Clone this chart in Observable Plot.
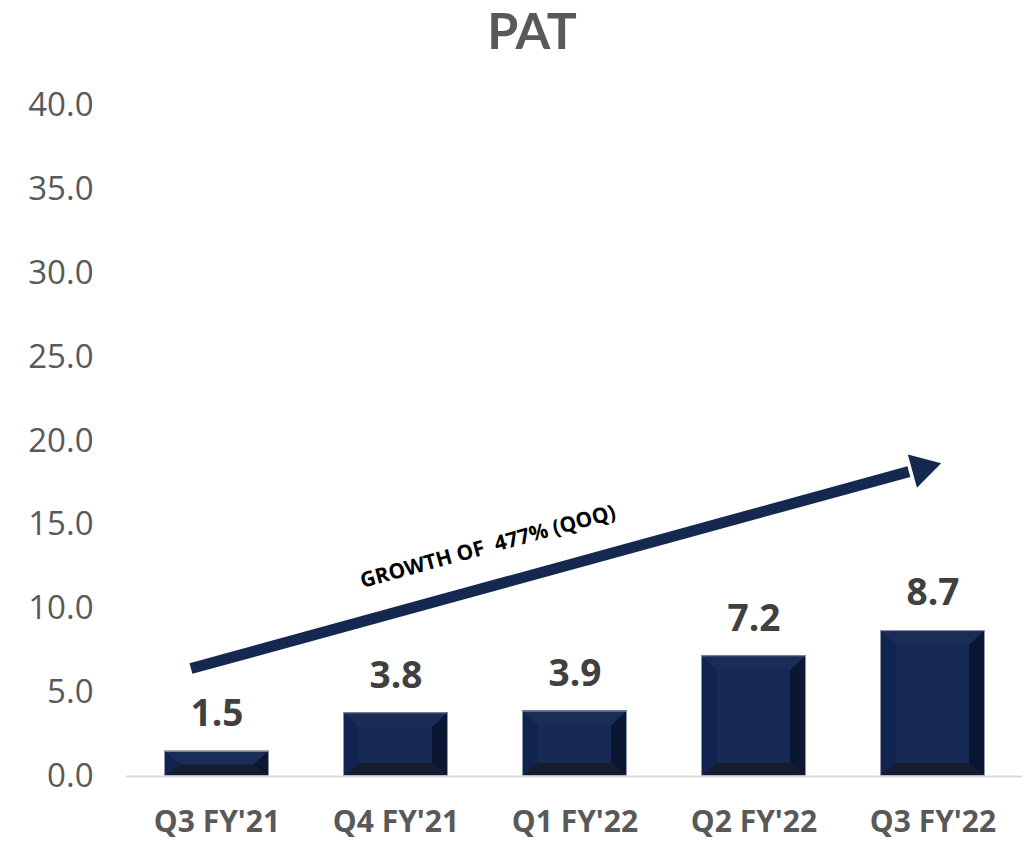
<!DOCTYPE html>
<html>
<head>
<meta charset="utf-8">
<script src="https://cdn.jsdelivr.net/npm/d3@7"></script>
<script src="https://cdn.jsdelivr.net/npm/@observablehq/plot@0.6"></script>
<style>
  html, body { margin: 0; padding: 0; background: #ffffff; }
  #title { width: 1028px; height: 60px; line-height: 60px; text-align: center; padding-left: 36px; box-sizing: border-box;
           font-family: Lato, "Open Sans", sans-serif; font-weight: bold; font-size: 50px; color: #595959; overflow: visible; }
</style>
</head>
<body>
<div id="title">PAT</div>
<div id="chart"></div>
<script>
// ---- data ----
const quarters = ["Q3 FY'21", "Q4 FY'21", "Q1 FY'22", "Q2 FY'22", "Q3 FY'22"];
const pat = [1.5, 3.8, 3.9, 7.2, 8.7];
const yTicks = [0, 5, 10, 15, 20, 25, 30, 35, 40];
const growthLabel = ["GROWTH OF  477% (QOQ)"];
// arrow (category, value at its centre line)
const arrowFrom = ["Q3 FY'21", 6.86];
const arrowTo = ["Q3 FY'22", 18.57];
const headAt = ["Q3 FY'22", 18.36];
const labelAt = ["Q4 FY'21", 13.7];

const data = quarters.map((q, i) => ({quarter: q, value: pat[i]}));
const navy = "#15284f";

const chart = Plot.plot({
  width: 1028,
  height: 782,
  marginLeft: 126,
  marginRight: 6,
  marginTop: 45,
  marginBottom: 66,
  style: {fontFamily: "'Open Sans', sans-serif", background: "transparent", color: "#595959"},
  x: {domain: quarters, paddingInner: 0.414, paddingOuter: 0.207, label: null},
  y: {domain: [0, 40], label: null},
  marks: [
    Plot.axisY({ticks: yTicks, tickFormat: d3.format(".1f"), tickSize: 0, tickPadding: 33, fontSize: 33, fill: "#595959", label: null}),
    Plot.axisX({tickSize: 0, tickPadding: 34, fontSize: 30, fontWeight: "bold", fill: "#595959", label: null}),
    Plot.barY(data, {x: "quarter", y: "value", fill: navy}),
    Plot.ruleY([0], {stroke: "#d9d9d9", strokeWidth: 2}),
    Plot.text(data, {x: "quarter", y: "value", text: d => d.value.toFixed(1), dy: -37, fontSize: 37, fontWeight: "bold", fill: "#404040"}),
    Plot.arrow([0], {x1: () => arrowFrom[0], y1: () => arrowFrom[1], x2: () => arrowTo[0], y2: () => arrowTo[1],
      stroke: navy, strokeWidth: 11, headLength: 0, insetStart: -27, insetEnd: 25, strokeLinecap: "butt"}),
    Plot.dot([0], {x: () => headAt[0], y: () => headAt[1], symbol: "triangle", r: 12.8, fill: navy, stroke: "none", rotate: 74.7, dx: -11}),
    Plot.text(growthLabel, {x: () => labelAt[0], y: () => labelAt[1], text: d => d, dx: 92, rotate: -15.3, fontSize: 21, fontWeight: "bold", fill: "#000000"})
  ]
});
document.getElementById("chart").appendChild(chart);

// bevel decoration derived from the bars Plot drew
const colors = {top: "#1a2c58", right: "#0b1633", bottom: "#151c30", left: "#112350", face: "#172a55"};
d3.select(chart).selectAll('g[aria-label="bar"] rect').each(function () {
  const r = d3.select(this);
  const x0 = +r.attr("x"), y0 = +r.attr("y"), w = +r.attr("width"), h = +r.attr("height");
  const x1 = x0 + w, y1 = y0 + h;
  const s = 16;
  const t = Math.min(15, h * 0.55);
  const b = Math.min(13, h - t);
  const ix0 = x0 + s, ix1 = x1 - s, iy0 = y0 + t, iy1 = y1 - b;
  const g = d3.select(this.parentNode);
  const poly = (pts, fill) => g.append("polygon").attr("points", pts.map(p => p.join(",")).join(" ")).attr("fill", fill);
  poly([[x0, y0], [x1, y0], [ix1, iy0], [ix0, iy0]], colors.top);
  poly([[x1, y0], [x1, y1], [ix1, iy1], [ix1, iy0]], colors.right);
  poly([[x1, y1], [x0, y1], [ix0, iy1], [ix1, iy1]], colors.bottom);
  poly([[x0, y1], [x0, y0], [ix0, iy0], [ix0, iy1]], colors.left);
  if (iy1 > iy0) g.append("rect").attr("x", ix0).attr("y", iy0).attr("width", ix1 - ix0).attr("height", iy1 - iy0).attr("fill", colors.face);
  g.append("rect").attr("x", x0 + 0.5).attr("y", y0 + 0.5).attr("width", w - 1).attr("height", h - 1)
    .attr("fill", "none").attr("stroke", "#8e96a6").attr("stroke-width", 1);
});
</script>
</body>
</html>
